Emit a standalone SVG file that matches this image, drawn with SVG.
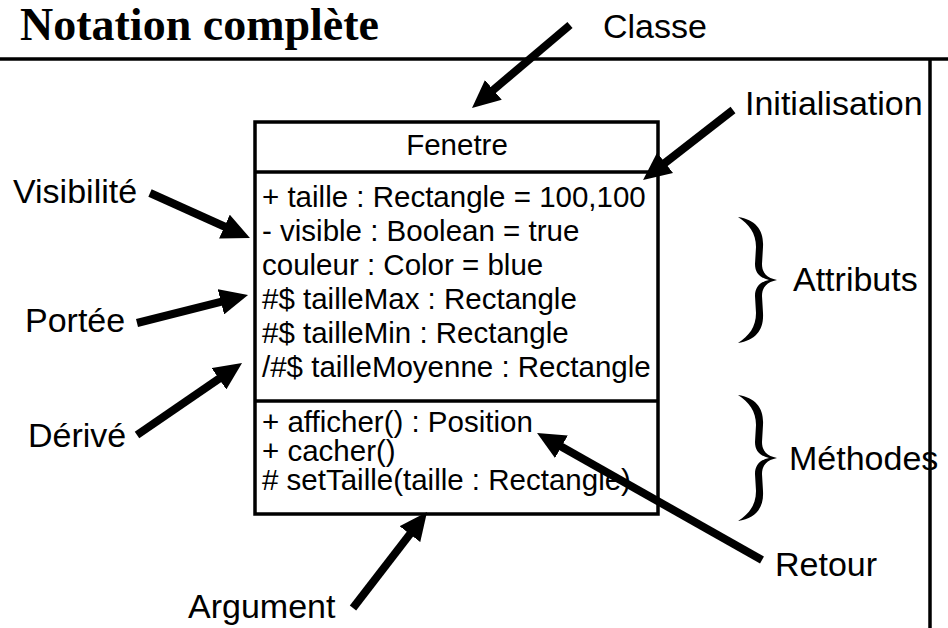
<svg xmlns="http://www.w3.org/2000/svg" width="948" height="628" viewBox="0 0 948 628">
<defs>
<style>
.title{font-family:"Liberation Serif","Times New Roman",serif;font-weight:bold;font-size:46px;fill:#000}
.lbl{font-family:"Liberation Sans",Arial,sans-serif;font-size:34px;fill:#000}
.txt{font-family:"Liberation Sans",Arial,sans-serif;font-size:29.5px;fill:#000}
.box{fill:#fff;stroke:#000;stroke-width:3.5}
.div{stroke:#000;stroke-width:3.5}
.frame{stroke:#000;stroke-width:3.5;fill:none}
.arrow{stroke:#000;stroke-width:8;fill:none;marker-end:url(#head)}
.brace{fill:#000}
</style>
<marker id="head" viewBox="0 0 28 26" refX="6" refY="13" markerWidth="28" markerHeight="26" markerUnits="userSpaceOnUse" orient="auto">
<path d="M0,0 L28,13 L0,26 z" fill="#000"/>
</marker>
<path id="brace" d="M0,0 C18,3 26,13 25,30 L24,47 C24,56 29,61 39,63 C29,65 24,70 24,79 L25,96 C26,113 18,123 0,126 C11,119 18,110 18,96 L17,79 C17,70 22,65 31,63 C22,61 17,56 17,47 L18,30 C18,16 11,7 0,0 Z"/>
</defs>
<rect width="948" height="628" fill="#fff"/>
<g id="title">
<text class="title" x="20" y="40">Notation complète</text>
</g>
<g id="frame">
<line class="frame" x1="0" y1="59" x2="948" y2="59"/>
<line class="frame" x1="930" y1="59" x2="930" y2="628"/>
</g>
<g id="class-Fenetre">
<rect class="box" x="255" y="122" width="403" height="392"/>
<line class="div" x1="255" y1="172" x2="658" y2="172"/>
<line class="div" x1="255" y1="401" x2="658" y2="401"/>
<text class="txt" x="457" y="155" text-anchor="middle">Fenetre</text>
<text class="txt" x="262" y="207">+ taille : Rectangle = 100,100</text>
<text class="txt" x="262" y="241">- visible : Boolean = true</text>
<text class="txt" x="262" y="275">couleur : Color = blue</text>
<text class="txt" x="262" y="309">#$ tailleMax : Rectangle</text>
<text class="txt" x="262" y="343">#$ tailleMin : Rectangle</text>
<text class="txt" x="262" y="377">/#$ tailleMoyenne : Rectangle</text>
<text class="txt" x="262" y="432">+ afficher() : Position</text>
<text class="txt" x="262" y="461">+ cacher()</text>
<text class="txt" x="262" y="490"># setTaille(taille : Rectangle)</text>
</g>
<g id="label-Classe"><text class="lbl" x="603" y="38">Classe</text></g>
<g id="label-Initialisation"><text class="lbl" x="745" y="115">Initialisation</text></g>
<g id="label-Visibilite"><text class="lbl" x="13" y="203">Visibilité</text></g>
<g id="label-Portee"><text class="lbl" x="25" y="332">Portée</text></g>
<g id="label-Derive"><text class="lbl" x="28" y="447">Dérivé</text></g>
<g id="label-Argument"><text class="lbl" x="188" y="618">Argument</text></g>
<g id="label-Retour"><text class="lbl" x="775" y="576">Retour</text></g>
<g id="label-Attributs">
<use class="brace" href="#brace" x="738" y="217"/>
<text class="lbl" x="793" y="291">Attributs</text>
</g>
<g id="label-Methodes">
<use class="brace" href="#brace" x="738" y="395"/>
<text class="lbl" x="789" y="470">Méthodes</text>
</g>
<g id="connectors">
<line class="arrow" x1="570" y1="25" x2="488.8" y2="93.8"/>
<line class="arrow" x1="733" y1="110" x2="660.4" y2="166.5"/>
<line class="arrow" x1="150" y1="193" x2="229.9" y2="229"/>
<line class="arrow" x1="137" y1="323" x2="226.7" y2="300.4"/>
<line class="arrow" x1="137" y1="435" x2="223.9" y2="375.4"/>
<line class="arrow" x1="353" y1="608" x2="413.6" y2="529.4"/>
<line class="arrow" x1="762" y1="560" x2="556.2" y2="443.8"/>
</g>
</svg>
